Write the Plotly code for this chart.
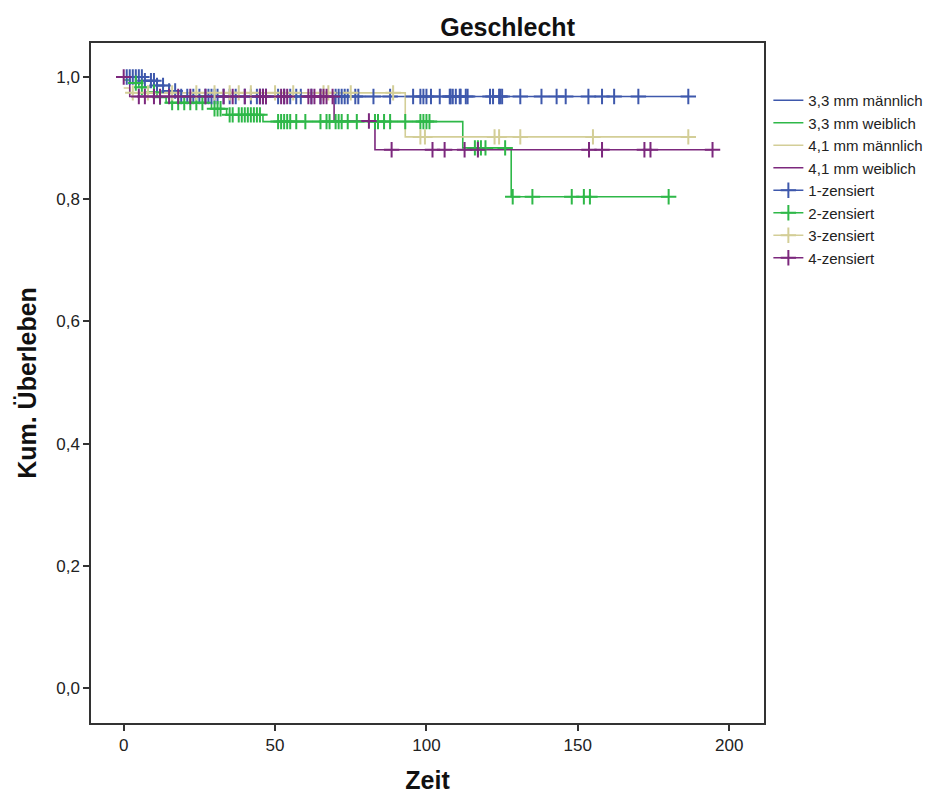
import numpy as np
import plotly.graph_objects as go

# ---- data ----
groups = ["3,3 mm männlich", "3,3 mm weiblich", "4,1 mm männlich", "4,1 mm weiblich"]
censor_names = ["1-zensiert", "2-zensiert", "3-zensiert", "4-zensiert"]
colors = ["#3E58AC", "#2EB848", "#D3CE97", "#7C287D"]

# step curves: times where level starts, survival level, and end time
g1_times = [0, 7, 11, 15, 19]
g1_surv = [1.0, 0.994, 0.986, 0.977, 0.968]
g1_end = 186.5

g2_times = [0, 2, 5, 8, 11, 14, 29, 34, 46, 112, 128]
g2_surv = [0.995, 0.99, 0.983, 0.975, 0.967, 0.958, 0.948, 0.938, 0.927, 0.884, 0.804]
g2_end = 180

g3_times = [0, 2, 93]
g3_surv = [0.982, 0.974, 0.902]
g3_end = 186.5

g4_times = [0, 2, 69.5, 83]
g4_surv = [1.0, 0.968, 0.928, 0.881]
g4_end = 194.5

# censoring times
g1_cens = [1, 2, 3, 4, 5, 6, 7, 9, 10, 11, 13, 15, 17, 19, 21, 23, 25, 27, 28, 29, 30, 31,
           33, 35, 37, 40, 42, 44, 45, 46, 47, 51, 53, 55, 57, 58.5, 62, 65, 70, 71, 72, 73,
           74, 76.5, 77.5, 82.5, 88, 95.6, 98, 99, 100, 101.5, 104.4, 107.7, 108, 108.7,
           109.7, 111, 111.3, 113, 113.6, 121, 122, 124, 124.4, 125, 131, 138, 143, 146,
           153.5, 158, 162, 170, 186.5]
g2_cens = [4, 6, 10, 12, 16, 18, 20, 22, 24, 26, 30, 31, 32, 35, 36, 38, 39, 40, 41, 42, 43,
           44, 45, 51, 52, 53, 54, 55, 57, 60, 65, 67, 68, 70, 71, 72, 74, 77, 83, 84, 86,
           88, 93, 98, 99, 100, 101, 116, 117, 118, 119.5, 126, 128.5, 135, 148, 152, 154, 180]
g3_cens = [3, 8, 16, 24, 30, 35, 38, 42, 50, 56, 66, 67.6, 75, 89, 98, 99.5, 122.5, 124,
           131, 155, 186.5]
g4_cens = [0, 5, 7, 10, 12, 15, 18, 22, 27, 33, 36, 40, 45, 46, 47, 52, 53, 54, 61, 62, 63,
           65, 66, 67, 69, 81, 88.5, 102, 106, 112.6, 117, 153.7, 158, 172, 174, 194.5]

curves = [
    (g1_times, g1_surv, g1_end, g1_cens),
    (g2_times, g2_surv, g2_end, g2_cens),
    (g3_times, g3_surv, g3_end, g3_cens),
    (g4_times, g4_surv, g4_end, g4_cens),
]

fig = go.Figure()

for name, col, (t, s, end, _) in zip(groups, colors, curves):
    xs = list(t) + [end]
    ys = list(s) + [s[-1]]
    fig.add_trace(go.Scatter(x=xs, y=ys, mode="lines", line_shape="hv",
                             line=dict(color=col, width=1.6), name=name,
                             hoverinfo="skip"))

for name, col, (t, s, end, c) in zip(censor_names, colors, curves):
    idx = np.searchsorted(np.array(t), np.array(c), side="right") - 1
    idx = np.clip(idx, 0, len(s) - 1)
    cy = np.array(s)[idx]
    fig.add_trace(go.Scatter(x=c, y=cy, mode="markers", name=name, showlegend=False,
                             marker=dict(symbol="cross-thin", size=11, color=col,
                                         line=dict(color=col, width=2))))
    # legend entry: line with a cross, as in the reference
    fig.add_trace(go.Scatter(x=[None], y=[None], mode="lines+markers", name=name,
                             line=dict(color=col, width=1.6),
                             marker=dict(symbol="cross-thin", size=11, color=col,
                                         line=dict(color=col, width=2))))

# page has an 8px body margin; figure sized so the plot lands where the reference has it
fig.update_layout(
    width=932, height=786,
    margin=dict(l=83, r=172, t=35, b=71),
    paper_bgcolor="white", plot_bgcolor="white",
    separators=",.",
    font=dict(family="Liberation Sans, Arial, sans-serif", size=16, color="#222"),
    title=dict(text="<b>Geschlecht</b>", x=0.619, xref="paper", xanchor="center",
               y=1 - 19 / 786, yanchor="middle", font=dict(size=25, color="#111")),
    showlegend=True,
    legend=dict(x=1.0065, xanchor="left", y=0.9397, yanchor="top",
                font=dict(size=15, color="#222"), tracegroupgap=0,
                bgcolor="rgba(0,0,0,0)", itemwidth=30),
)

fig.update_xaxes(range=[-10.8, 211.5], tickvals=[0, 50, 100, 150, 200],
                 automargin=False,
                 showgrid=False, zeroline=False, showline=True, mirror=True,
                 linecolor="#333", linewidth=1.5, ticks="outside", ticklen=6,
                 tickcolor="#333", tickwidth=1.5, tickfont=dict(size=17),
                 title=dict(text="<b>Zeit</b>", font=dict(size=25, color="#111"),
                            standoff=24))
fig.update_yaxes(range=[-0.057, 1.0556], tickvals=[0, 0.2, 0.4, 0.6, 0.8, 1.0],
                 tickformat=".1f", automargin=False,
                 showgrid=False, zeroline=False, showline=True, mirror=True,
                 linecolor="#333", linewidth=1.5, ticks="outside", ticklen=6,
                 tickcolor="#333", tickwidth=1.5, tickfont=dict(size=17),
                 title=dict(text="<b>Kum. Überleben</b>", font=dict(size=25, color="#111"),
                            standoff=12))

fig.write_html("out.html")
